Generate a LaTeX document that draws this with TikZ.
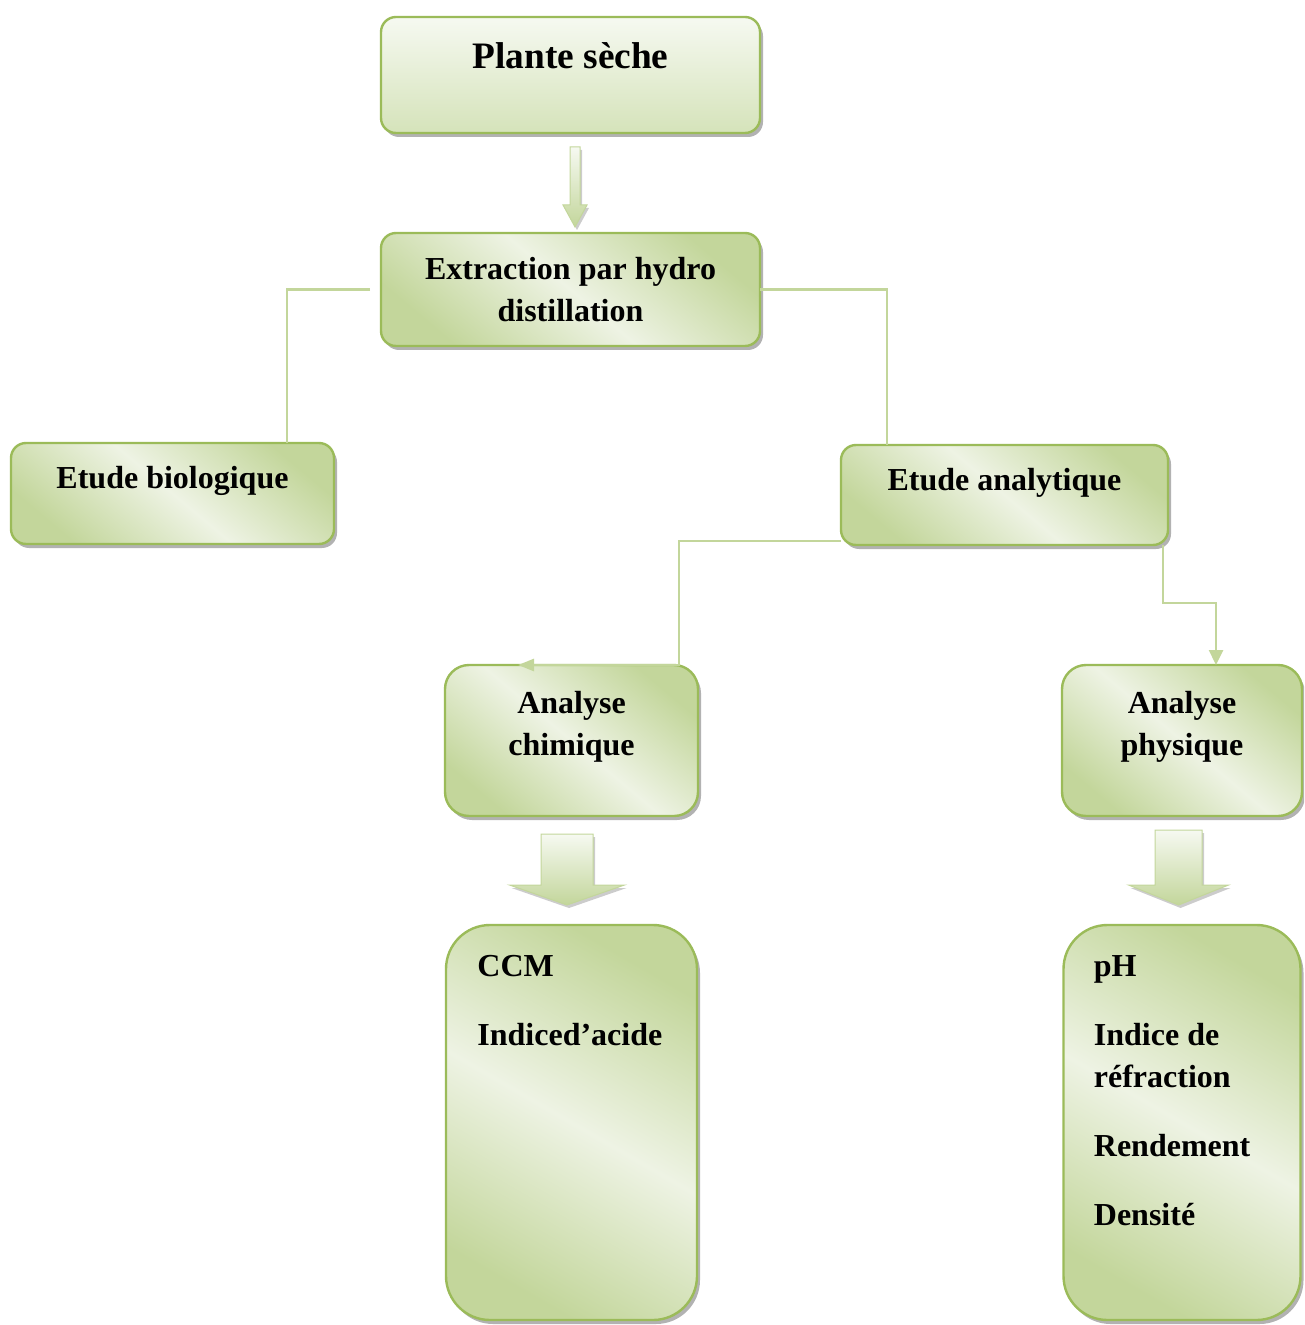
\documentclass[tikz,border=0pt]{standalone}
\usepackage{fontspec}
\setmainfont{Liberation Serif}
\usepackage{tikz}
\usetikzlibrary{positioning, arrows.meta, calc, shadows}
\definecolor{rim}{HTML}{9BBB59}
\definecolor{leaf}{HTML}{C3D69B}
\definecolor{pale}{HTML}{EEF3E4}
\definecolor{topw}{HTML}{F6F9F1}
\definecolor{topg}{HTML}{D5E3BA}
\definecolor{linec}{HTML}{C3D69B}
\newcommand{\boxfont}{\fontsize{16}{21}\selectfont\bfseries}
\newcommand{\titlefont}{\fontsize{18.67}{22}\selectfont\bfseries}
% block arrow: start, tip, shaft half width, head half width, head length
\newcommand{\blockarrow}[5]{%
  \path[blockarr] let \p1=(#1), \p2=(#2) in
    (\x1-#3,\y1) -- (\x1+#3,\y1) -- (\x1+#3,\y2+#5) -- (\x1+#4,\y2+#5)
    -- (\x1,\y2) -- (\x1-#4,\y2+#5) -- (\x1-#3,\y2+#5) -- cycle;}
\tikzset{
  boxbase/.style={draw=rim, line width=1.2pt, inner sep=0pt, outer sep=0pt, text=black,
                  drop shadow={shadow xshift=1.5pt, shadow yshift=-2pt, fill=black, opacity=0.3}},
  headbox/.style={boxbase, rounded corners=7.5pt, top color=topw, bottom color=topg, font=\titlefont},
  flowbox/.style={boxbase, rounded corners=7.5pt, top color=leaf, bottom color=leaf,
                  middle color=pale, shading angle=-40, font=\boxfont, align=center},
  midbox/.style={flowbox, rounded corners=12pt},
  tallbox/.style={boxbase, rounded corners=22pt, top color=leaf, bottom color=leaf,
                  middle color=pale, shading angle=-30},
  boxtext/.style={font=\boxfont, inner sep=0pt, text=black},
  conn/.style={draw=linec, line width=1.3pt},
  blockarr/.style={draw=linec, line width=0.5pt, top color=topw, bottom color=leaf,
                   drop shadow={shadow xshift=1pt, shadow yshift=-1.5pt, fill=black, opacity=0.2}},
}
\begin{document}
\begin{tikzpicture}
  \useasboundingbox (0,0) rectangle (652pt,-662.5pt);
  \clip (0,0) rectangle (652pt,-662.5pt);
  \node[headbox, minimum width=189.5pt, minimum height=58pt, text depth=19.75pt] (plante)
    at (285.25pt,-37.5pt) {Plante sèche};
  \node[flowbox, below=50pt of plante, minimum width=189.5pt, minimum height=56.5pt] (extr)
    {Extraction par hydro\\distillation};
  \node[flowbox, below left=48.5pt and 23.5pt of extr, minimum width=161.5pt,
        minimum height=50.5pt, text depth=16.5pt] (bio) {Etude biologique};
  \node[flowbox, below right=49.5pt and 40.5pt of extr, minimum width=163.5pt,
        minimum height=50pt, text depth=15.9pt] (anl) {Etude analytique};
  \node[midbox, below left=60pt and 71.5pt of anl, minimum width=126.5pt, minimum height=75.5pt] (chi) {};
  \node[midbox, below right=60pt and -53pt of anl, minimum width=120pt, minimum height=75.5pt] (phy) {};
  \node[boxtext, align=center] (chilbl) at ([yshift=7pt]chi.center) {Analyse\\chimique};
  \node[boxtext, align=center] (phylbl) at ([yshift=7pt]phy.center) {Analyse\\physique};
  \node[tallbox, below=54.5pt of chi, minimum width=125.5pt, minimum height=197.5pt] (ccm) {};
  \node[tallbox, below=54.5pt of phy, minimum width=118.5pt, minimum height=197.5pt] (ph) {};
  \node[boxtext, align=left, anchor=north west] (ccmlbl)
    at ([xshift=15.5pt,yshift=-15pt]ccm.north west) {CCM\\[13.5pt]Indiced’acide};
  \node[boxtext, align=left, anchor=north west] (phlbl)
    at ([xshift=15pt,yshift=-15pt]ph.north west)
    {pH\\[13.5pt]Indice de\\réfraction\\[13.5pt]Rendement\\[13.5pt]Densité};
  % connectors
  \draw[conn] ([xshift=-5.5pt]extr.west) -| ([xshift=-23.5pt]bio.north east);
  \draw[conn] (extr.east) -| ([xshift=23pt]anl.north west);
  \draw[conn, -{Triangle[length=8pt, width=6pt]}] ([yshift=2pt]anl.south west)
    -| ([xshift=-9.5pt]chi.north east) -- ([xshift=36.5pt]chi.north west);
  \draw[conn, -{Triangle[length=7.5pt, width=7pt]}] ([xshift=-2.5pt]anl.south east)
    -- ++(0,-29pt) -| ([xshift=77pt]phy.north west);
  % block arrows
  \coordinate (a1s) at ([xshift=2.25pt,yshift=-7pt]plante.south);
  \coordinate (a1e) at ([xshift=2.25pt,yshift=3pt]extr.north);
  \coordinate (a2s) at ([xshift=-2.25pt,yshift=-9pt]chi.south);
  \coordinate (a2e) at ([yshift=10pt]ccm.north);
  \coordinate (a3s) at ([xshift=-1.75pt,yshift=-7pt]phy.south);
  \coordinate (a3e) at ([yshift=10pt]ph.north);
  \blockarrow{a1s}{a1e}{2.5pt}{6pt}{11pt}
  \blockarrow{a2s}{a2e}{13pt}{28.75pt}{10pt}
  \blockarrow{a3s}{a3e}{11.75pt}{25pt}{10pt}
\end{tikzpicture}
\end{document}
